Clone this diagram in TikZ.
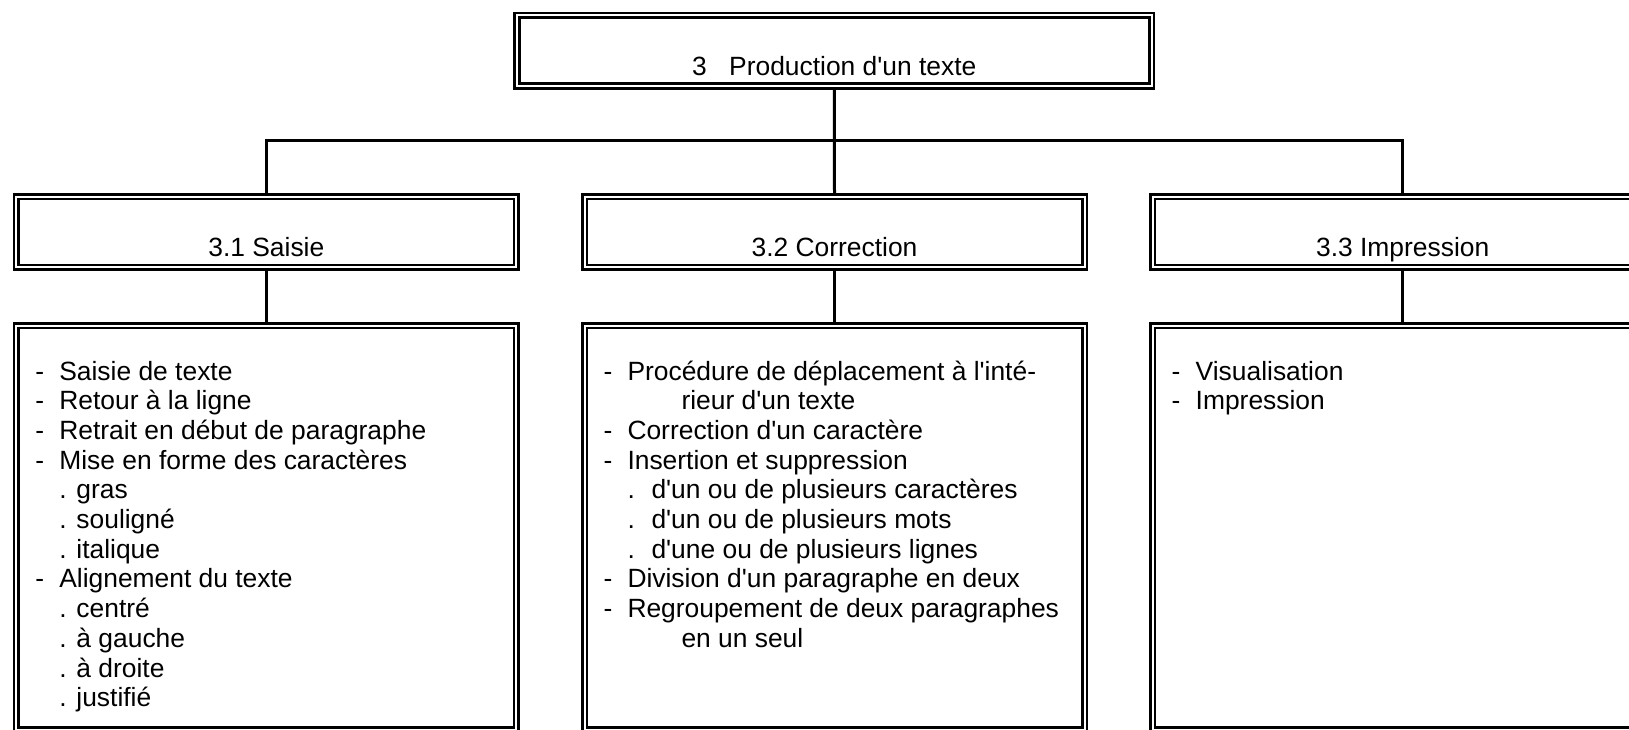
\documentclass[tikz,border=0pt]{standalone}
\usepackage{fontspec}
\setmainfont{Liberation Sans}[Ligatures=TeXOff]
\usetikzlibrary{positioning}

\newcommand{\tiret}[1]{\makebox[12pt][l]{-}#1}
\newcommand{\pointa}[1]{\hspace*{12pt}. #1}
\newcommand{\pointb}[1]{\hspace*{12pt}\makebox[12pt][l]{.}#1}
\newcommand{\suite}[1]{\hspace*{39pt}#1}

\begin{document}
\begin{tikzpicture}[x=0.5pt,y=-0.5pt,
    cadre/.style={draw,line width=1.35pt,double,double distance=1pt,outer sep=1.85pt,inner sep=0pt,
        font=\fontsize{13.2}{14.85}\selectfont},
    titre/.style={cadre,minimum height=35.3pt,text height=24.6pt,text depth=0pt},
    bloc/.style={cadre,minimum width=250pt,minimum height=202pt,below=25.5pt of #1},
    liste/.style={anchor=base west,inner sep=0pt,font=\fontsize{13.2}{14.85}\selectfont},
    trait/.style={line width=1.5pt}]
    \useasboundingbox (0,0) rectangle (1629,729);
    \clip (0,0) rectangle (1629,729);

    \node[titre,minimum width=317.25pt] (prod) at (834.25,50.5) {3\hspace{0.85em}Production d'un texte};
    \node[titre,minimum width=250pt] (saisie) at (266.35,232) {3.1 Saisie};
    \node[titre,minimum width=250pt] (corr) at (834.5,232) {3.2 Correction};
    \node[titre,minimum width=250pt] (impr) at (1402.7,232) {3.3 Impression};

    \node[bloc=saisie] (saisie-liste) {};
    \node[bloc=corr] (corr-liste) {};
    \node[bloc=impr] (impr-liste) {};

    \coordinate (bus) at (0,140);
    \draw[trait] (prod.south) -- (corr.north);
    \draw[trait] (saisie.north) -- (saisie.north |- bus) -- (impr.north |- bus) -- (impr.north);
    \foreach \n in {saisie,corr,impr} \draw[trait] (\n.south) -- (\n-liste.north);

    \node[liste] (saisie-texte) at ([shift={(11.15pt,-29pt)}]saisie-liste.north west) {\begin{tabular}[t]{@{}l@{}}
        \tiret{Saisie de texte}\\
        \tiret{Retour à la ligne}\\
        \tiret{Retrait en début de paragraphe}\\
        \tiret{Mise en forme des caractères}\\
        \pointa{gras}\\
        \pointa{souligné}\\
        \pointa{italique}\\
        \tiret{Alignement du texte}\\
        \pointa{centré}\\
        \pointa{à gauche}\\
        \pointa{à droite}\\
        \pointa{justifié}
    \end{tabular}};
    \node[liste] (corr-texte) at ([shift={(11.15pt,-29pt)}]corr-liste.north west) {\begin{tabular}[t]{@{}l@{}}
        \tiret{Procédure de déplacement à l'inté-}\\
        \suite{rieur d'un texte}\\
        \tiret{Correction d'un caractère}\\
        \tiret{Insertion et suppression}\\
        \pointb{d'un ou de plusieurs caractères}\\
        \pointb{d'un ou de plusieurs mots}\\
        \pointb{d'une ou de plusieurs lignes}\\
        \tiret{Division d'un paragraphe en deux}\\
        \tiret{Regroupement de deux paragraphes}\\
        \suite{en un seul}
    \end{tabular}};
    \node[liste] (impr-texte) at ([shift={(11.15pt,-29pt)}]impr-liste.north west) {\begin{tabular}[t]{@{}l@{}}
        \tiret{Visualisation}\\
        \tiret{Impression}
    \end{tabular}};
\end{tikzpicture}
\end{document}
